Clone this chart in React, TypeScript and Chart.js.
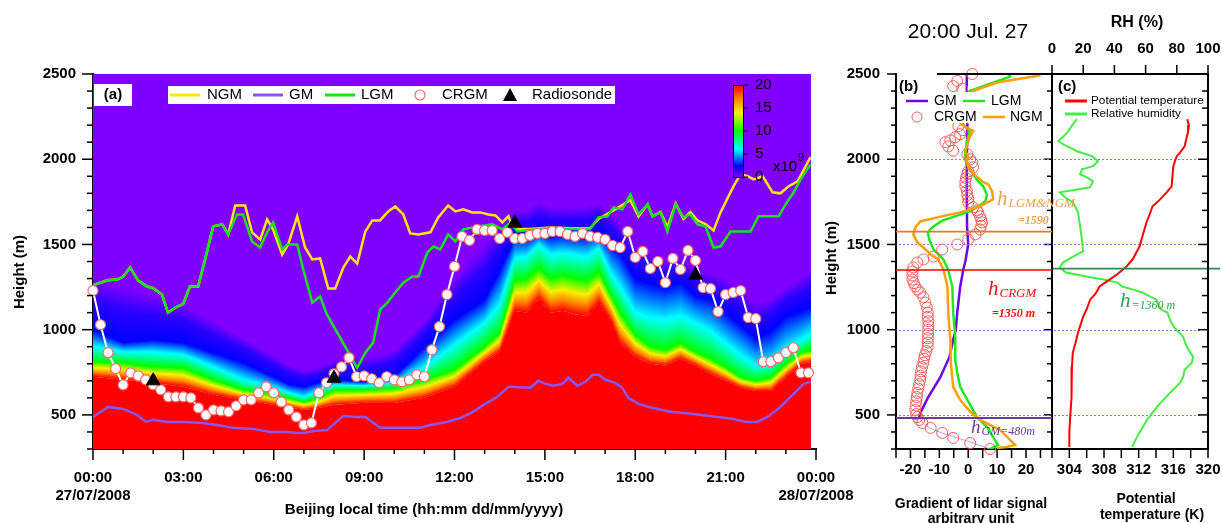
import React, { useEffect, useRef } from 'react';
import { Chart, registerables } from 'chart.js';

Chart.register(...registerables);

const SANS = '"Liberation Sans", Arial, Helvetica, sans-serif';
const SERIF = '"Liberation Serif", "Times New Roman", serif';

// ================= Panel (a): time-height section =================
const hourTicks = [0, 3, 6, 9, 12, 15, 18, 21, 24];
const heightTicks = [500, 1000, 1500, 2000, 2500];

const crgmTimes = Array.from({ length: 96 }, (_, i) => i * 0.25);
const crgmHeights = [
  1229, 1029, 865, 771, 676, 747, 729, 706, 676, 647, 606, 606, 606, 600, 541, 500, 529, 524, 518, 553, 588, 588, 629, 665,
  629, 576, 529, 488, 441, 453, 629, 688, 741, 782, 835, 724, 729, 712, 688, 724, 706, 694, 706, 735, 724, 882, 1018, 1206,
  1371, 1547, 1524, 1588, 1582, 1582, 1535, 1571, 1535, 1535, 1553, 1565, 1565, 1576, 1576, 1559, 1547, 1565, 1547, 1541,
  1529, 1494, 1482, 1576, 1424, 1459, 1359, 1400, 1276, 1418, 1353, 1465, 1406, 1247, 1241, 1106, 1206, 1218, 1229, 1071,
  1065, 812, 812, 835, 865, 894, 747, 747,
];

const ngmTimes = [
  0, 0.47, 0.8, 1.0, 1.23, 1.5, 1.8, 2.0, 2.29, 2.49, 2.79, 2.99, 3.22, 3.49, 3.72, 3.99, 4.29, 4.49, 4.72, 5.05,
  5.28, 5.55, 5.78, 5.98, 6.28, 6.48, 6.78, 7.04, 7.28, 7.54, 7.81, 8.04, 8.31, 8.54, 8.77, 9.04, 9.27, 9.53, 9.8, 10.03,
  10.3, 10.53, 10.8, 11.2, 11.46, 11.79, 12.03, 12.29, 12.59, 12.86, 13.12, 13.36, 13.59, 13.79, 13.92, 14.09, 14.5, 15.18, 15.85, 16.5,
  16.78, 17.28, 17.84, 18.11, 18.41, 18.57, 18.84, 19.07, 19.34, 19.6, 19.83, 20.07, 20.33, 20.6, 20.83, 21.26, 21.5, 21.73, 21.93, 22.23,
  22.56, 22.82, 23.09, 23.39, 23.82,
];
const ngmHeights = [
  1260, 1290, 1294, 1310, 1365, 1288, 1253, 1243, 1206, 1100, 1135, 1150, 1253, 1253, 1412, 1606, 1618, 1559, 1729, 1729,
  1571, 1529, 1647, 1588, 1441, 1500, 1665, 1482, 1412, 1418, 1241, 1241, 1365, 1429, 1388, 1576, 1641, 1641, 1694, 1723,
  1676, 1565, 1559, 1571, 1659, 1729, 1694, 1706, 1688, 1688, 1676, 1670, 1629, 1665, 1606, 1590, 1590, 1600, 1595, 1595,
  1650, 1700, 1760, 1665, 1735, 1665, 1690, 1600, 1740, 1650, 1690, 1640, 1620, 1582, 1688, 1841, 1912, 1900, 1882, 1900,
  1806, 1800, 1841, 1870, 2012,
];

const lgmTimes = [
  0, 0.47, 0.8, 1.0, 1.23, 1.5, 1.8, 2.0, 2.29, 2.49, 2.79, 2.99, 3.22, 3.49, 3.72, 3.99, 4.29, 4.49, 4.78, 4.98,
  5.28, 5.55, 5.78, 5.98, 6.28, 6.45, 6.78, 6.98, 7.28, 7.54, 7.77, 8.77, 9.04, 9.3, 9.53, 9.8, 10.03, 10.3, 10.6, 10.8,
  11.1, 11.3, 11.53, 11.79, 12.03, 12.29, 12.76, 13.26, 13.59, 13.85, 14.09, 14.5, 15.18, 15.85, 16.5, 16.78, 17.08, 17.28, 17.57, 17.84,
  18.11, 18.41, 18.57, 18.84, 19.07, 19.34, 19.6, 19.83, 20.07, 20.33, 20.6, 20.83, 21.16, 21.83, 22.09, 22.76, 22.99, 23.26, 23.49, 23.82,
];
const lgmHeights = [
  1260, 1290, 1294, 1310, 1365, 1288, 1253, 1243, 1206, 1100, 1135, 1150, 1253, 1253, 1412, 1606, 1618, 1559, 1676, 1676,
  1518, 1482, 1571, 1629, 1471, 1500, 1500, 1353, 1159, 1194, 1088, 776, 865, 924, 1118, 1165, 1218, 1276, 1312, 1312,
  1453, 1488, 1471, 1559, 1518, 1588, 1606, 1618, 1588, 1629, 1576, 1585, 1595, 1590, 1590, 1659, 1665, 1718, 1706, 1794,
  1676, 1735, 1665, 1688, 1576, 1735, 1659, 1676, 1618, 1606, 1482, 1488, 1576, 1576, 1665, 1665, 1735, 1806, 1882, 1970,
];

const gmTimes = [
  0, 0.5, 1.0, 1.46, 1.76, 2.0, 2.46, 3.0, 3.65, 4.12, 4.65, 5.32, 5.88, 6.45, 6.78, 6.98, 7.31, 7.77, 8.31, 8.77,
  9.04, 9.53, 10.86, 11.2, 11.76, 12.19, 12.62, 12.96, 13.42, 13.79, 14.52, 14.78, 15.02, 15.28, 15.58, 15.78, 16.08, 16.35, 16.58, 16.78,
  17.01, 17.34, 17.57, 17.77, 18.11, 18.57, 19.17, 19.93, 20.73, 21.26, 21.66, 22.06, 22.39, 22.82, 23.22, 23.59, 23.82,
];
const gmHeights = [
  488, 547, 535, 500, 459, 471, 459, 459, 453, 441, 424, 418, 400, 400, 394, 394, 406, 412, 494, 488,
  488, 424, 424, 441, 459, 482, 518, 559, 606, 665, 659, 700, 682, 671, 682, 718, 671, 694, 735, 735,
  706, 688, 659, 600, 565, 541, 518, 506, 488, 476, 459, 459, 488, 547, 618, 682, 694,
];

const sondeTimes = [2, 8, 14, 20];
const sondeHeights = [700, 715, 1625, 1320];

// lidar-signal field described by the heights of its iso-levels (x10^9)
const heatTimes = [
  0, 1, 2, 3, 4, 5, 6, 6.5, 7, 7.5, 8, 9, 10, 11, 12, 13, 13.5, 14, 14.4, 14.8,
  15.2, 15.6, 16, 16.4, 16.8, 17.2, 17.5, 18, 18.5, 19, 19.5, 20, 20.5, 21, 21.5, 22, 22.5, 23, 23.5, 23.85,
];
const iso20 = [
  724, 706, 688, 665, 618, 588, 559, 545, 529, 540, 559, 571, 570, 600, 665, 812, 870, 1110, 1100, 1180,
  1100, 1110, 1090, 1080, 1160, 1050, 920, 840, 800, 790, 830, 790, 740, 700, 660, 640, 640, 720, 800, 810,
];
const iso10 = [
  812, 806, 782, 776, 706, 647, 618, 600, 576, 600, 647, 647, 659, 706, 765, 900, 980, 1290, 1300, 1360,
  1300, 1320, 1300, 1290, 1340, 1200, 1100, 970, 900, 880, 920, 870, 830, 780, 720, 700, 720, 800, 865, 880,
];
const iso5 = [
  900, 870, 870, 853, 782, 706, 659, 630, 606, 640, 676, 671, 688, 780, 912, 1041, 1150, 1420, 1430, 1500,
  1440, 1450, 1440, 1430, 1480, 1330, 1250, 1100, 1070, 1060, 1080, 1040, 990, 920, 850, 790, 800, 880, 940, 980,
];
const iso2 = [
  1000, 924, 941, 924, 865, 806, 724, 680, 665, 690, 706, 694, 724, 900, 1059, 1176, 1350, 1540, 1540, 1570,
  1550, 1560, 1550, 1550, 1570, 1500, 1450, 1300, 1270, 1250, 1280, 1200, 1180, 1100, 1030, 950, 990, 1080, 1110, 1135,
];
const iso0 = [
  1300, 1250, 1200, 1150, 1050, 950, 850, 800, 760, 780, 820, 830, 880, 1050, 1300, 1500, 1600, 1700, 1700, 1750,
  1720, 1720, 1720, 1720, 1750, 1680, 1620, 1500, 1450, 1400, 1420, 1350, 1330, 1300, 1230, 1150, 1180, 1250, 1300, 1350,
];
const colorbarTicks = [0, 5, 10, 15, 20];

// ================= Panel (b): gradient profiles at 20:00 =================
const gradTicks = [-20, -10, 0, 10, 20];
const gmGradH = [2500, 2400, 2200, 2000, 1800, 1600, 1500, 1400, 1353, 1250, 1100, 1000, 941, 840, 720, 600, 510, 482, 440, 412, 382, 341, 300];
const gmGrad = [-0.5, -0.5, -0.3, -0.5, -0.5, -0.4, 0, -1, -1.7, -2.8, -3.8, -4.3, -5.2, -6.5, -9.7, -14, -16.6, -17, -15, -12, -7, 0.7, 7.6];

const lgmGradH = [
  2506, 2485, 2400, 2217, 2165, 2100, 2047, 2000, 1959, 1912, 1870, 1841, 1790, 1753, 1718, 1690, 1640, 1600, 1570, 1530,
  1470, 1412, 1353, 1253, 1100, 960, 824, 747, 665, 588, 488, 429, 371, 324, 312, 300,
];
const lgmGrad = [
  13.8, 14.5, 0.5, -2.5, 0.5, -0.5, -1, -1, 0, 1.7, 3.5, 5.2, 6.5, 5.9, 3, -0.3, -9, -12.5, -14, -13.5,
  -12, -8.6, -7, -5.5, -5.2, -4.5, -4.5, -3.8, -2.8, -0.3, 3, 6.5, 8.6, 10.3, 9, 7.6,
];

const ngmGradH = [
  2500, 2490, 2450, 2400, 2217, 2190, 2165, 2130, 2100, 2047, 2018, 2000, 1959, 1912, 1870, 1853, 1812, 1765, 1724, 1688,
  1659, 1635, 1600, 1559, 1512, 1482, 1441, 1412, 1353, 1253, 1100, 941, 800, 665, 588, 518, 471, 412, 324, 312, 306,
];
const ngmGrad = [
  22.4, 24, 10, 1.5, -3, -1, 1.7, 0.5, 0, -1, 0, -0.5, 0, 2, 4.8, 6.9, 8.3, 8.6, 4.1, -2.8,
  -10.7, -16.6, -18.3, -19, -17.6, -15.5, -13, -10.3, -8.6, -7.2, -6.9, -6.2, -6, -5.2, -2.8, 0.7, 4.1, 11, 16.2, 13.4, 10,
];

const crgmGradH = [
  2500, 2459, 2429, 2412, 2194, 2170, 2147, 2129, 2110, 2100, 2075, 2050, 2029, 2000, 1982, 1953, 1930, 1912, 1890, 1865,
  1841, 1815, 1790, 1770, 1747, 1718, 1700, 1688, 1665, 1645, 1629, 1610, 1588, 1559, 1529, 1500, 1470, 1429, 1412, 1394,
  1365, 1341, 1318, 1294, 1273, 1253, 1235, 1218, 1190, 1159, 1130, 1100, 1076, 1050, 1025, 1000, 975, 950, 925, 900,
  875, 850, 830, 806, 780, 755, 730, 706, 680, 655, 629, 605, 580, 555, 529, 505, 488, 470, 453, 424, 394, 365, 335, 300,
];
const crgmGrad = [
  1.4, -3.8, -5.2, -2.1, -3.4, -2, -2.8, -4.5, -6.2, -7.9, -6.9, -5.2, -0.3, 0.7, 1.4, 1.7, 0, -0.3, -0.8, -1,
  -1, -0.5, -0.3, 0, 0, 1.7, 3, 3.4, 4.1, 4.5, 4.8, 4.5, 4.1, 2.5, 0, -3.8, -9, -12, -15.5, -17.6,
  -19, -19.3, -19.3, -19.3, -18.8, -18.3, -17.5, -16.6, -15.5, -14.8, -14.3, -14, -14, -13.8, -13.8, -13.8, -13.9, -14, -14, -14,
  -14.5, -15, -15.3, -15.5, -16, -16.3, -16.5, -16.6, -17, -17.3, -17.6, -17.8, -18, -18.2, -18.3, -18, -17.6, -17, -15.9, -13, -9, -5.2, 0.7, 7.6,
];

const hLgmNgm = 1575;
const hCrgm = 1350;
const hGm = 482;

// ================= Panel (c): radiosonde profiles =================
const ptTicks = [304, 308, 312, 316, 320];
const rhTicks = [0, 20, 40, 60, 80, 100];
const ptH = [
  2235, 2200, 2159, 2120, 2076, 2040, 2018, 1990, 1959, 1900, 1841, 1810, 1782, 1750, 1724, 1680, 1629, 1560, 1488, 1450,
  1412, 1371, 1324, 1282, 1253, 1210, 1176, 1120, 1076, 1030, 982, 920, 865, 780, 688, 600, 488, 400, 312,
];
const ptK = [
  317.6, 317.8, 317.7, 317.5, 317.3, 316.8, 316.4, 316.2, 316, 315.9, 315.8, 315.3, 314.8, 314.2, 313.6, 313.3, 312.9, 312.5, 312.1, 311.7,
  311.3, 310.6, 309.5, 308.3, 307.5, 307, 306.4, 306, 305.6, 305.3, 305, 304.7, 304.4, 304.3, 304.3, 304.2, 304.1, 304, 304,
];
const rhH = [
  2235, 2200, 2165, 2130, 2106, 2088, 2047, 2018, 1988, 1959, 1941, 1912, 1894, 1870, 1835, 1823, 1806, 1780, 1747, 1688,
  1606, 1529, 1459, 1429, 1394, 1365, 1335, 1312, 1294, 1276, 1253, 1235, 1218, 1194, 1176, 1150, 1118, 1100, 1050, 1018,
  959, 910, 882, 841, 806, 765, 720, 688, 629, 547, 471, 371, 312,
];
const rhPct = [
  16, 13, 10.5, 7, 4, 7, 16, 25.6, 29.5, 26.3, 19.2, 18, 22.4, 26.3, 24.4, 16, 5, 8, 13.5, 16.7,
  18, 19.2, 19.9, 13.5, 7, 5, 9, 22, 33, 42, 45, 52, 58, 63, 67, 68, 70, 74, 76, 78,
  84, 86, 87.5, 90.4, 89.7, 85, 84, 82, 75.6, 67.3, 60.9, 54.5, 51.3,
];
const hRh = 1358;

// ================= helpers =================
const pts = (xs: number[], ys: number[]) => xs.map((x, i) => ({ x, y: ys[i] }));

function interp(ts: number[], vs: number[], t: number) {
  if (t <= ts[0]) return vs[0];
  for (let i = 1; i < ts.length; i++) {
    if (t <= ts[i]) {
      const f = (t - ts[i - 1]) / (ts[i] - ts[i - 1]);
      return vs[i - 1] + f * (vs[i] - vs[i - 1]);
    }
  }
  return vs[vs.length - 1];
}

function seg(ctx: CanvasRenderingContext2D, x1: number, y1: number, x2: number, y2: number) {
  ctx.beginPath();
  ctx.moveTo(x1, y1);
  ctx.lineTo(x2, y2);
  ctx.stroke();
}

function txt(ctx: CanvasRenderingContext2D, s: string, x: number, y: number, font: string, color = '#000', align: CanvasTextAlign = 'left', baseline: CanvasTextBaseline = 'middle') {
  ctx.font = font;
  ctx.fillStyle = color;
  ctx.textAlign = align;
  ctx.textBaseline = baseline;
  ctx.fillText(s, x, y);
}

function vtxt(ctx: CanvasRenderingContext2D, s: string, x: number, y: number, font: string) {
  ctx.save();
  ctx.translate(x, y);
  ctx.rotate(-Math.PI / 2);
  txt(ctx, s, 0, 0, font, '#000', 'center', 'middle');
  ctx.restore();
}

function hourLabel(v: number) {
  const hh = String(v % 24).padStart(2, '0') + ':00';
  if (v === 0) return [hh, '27/07/2008'];
  if (v === 24) return [hh, '28/07/2008'];
  return hh;
}

const PURPLE = 'rgb(127,0,255)';
const tickFont = { family: SANS, size: 15, weight: 'bold' as const, lineHeight: 1.2 };
const noGrid = (len: number) => ({ display: true, drawOnChartArea: false, color: 'rgba(0,0,0,0)', tickLength: len });
const axisBorder = { display: true, color: '#000', width: 2 };

// ================= plugins =================
const heatPlugin = {
  id: 'heat',
  beforeDatasetsDraw(chart: any) {
    const { ctx, chartArea: ca, scales } = chart;
    const x = scales.x;
    const y = scales.y;
    ctx.save();
    ctx.beginPath();
    ctx.rect(ca.left, ca.top, ca.right - ca.left, ca.bottom - ca.top);
    ctx.clip();
    const x0 = Math.round(x.getPixelForValue(heatTimes[0]));
    const x1 = Math.round(x.getPixelForValue(heatTimes[heatTimes.length - 1]));
    for (let px = x0; px < x1; px++) {
      const t = x.getValueForPixel(px + 0.5);
      const yR = y.getPixelForValue(interp(heatTimes, iso20, t));
      const yG = y.getPixelForValue(interp(heatTimes, iso10, t));
      const yC = y.getPixelForValue(interp(heatTimes, iso5, t));
      const yB = y.getPixelForValue(interp(heatTimes, iso2, t));
      const yP = y.getPixelForValue(interp(heatTimes, iso0, t));
      ctx.fillStyle = PURPLE;
      ctx.fillRect(px, ca.top, 1, yP - ca.top + 1);
      ctx.fillStyle = 'rgb(255,0,0)';
      ctx.fillRect(px, yR, 1, ca.bottom - yR);
      const span = yR - yP;
      const f = (yy: number) => Math.min(1, Math.max(0, (yR - yy) / span));
      const g = ctx.createLinearGradient(0, yR, 0, yP);
      g.addColorStop(0, 'rgb(255,0,0)');
      g.addColorStop(f(yR + (yG - yR) * 0.3), 'rgb(255,130,0)');
      g.addColorStop(f(yR + (yG - yR) * 0.6), 'rgb(250,240,0)');
      g.addColorStop(f(yG), 'rgb(0,255,0)');
      g.addColorStop(f(yC), 'rgb(0,255,255)');
      g.addColorStop(f(yB), 'rgb(0,0,255)');
      g.addColorStop(f(yB + (yP - yB) * 0.55), 'rgb(40,0,255)');
      g.addColorStop(1, PURPLE);
      ctx.fillStyle = g;
      ctx.fillRect(px, yP, 1, yR - yP);
    }
    ctx.restore();
  },
};

const decorA = {
  id: 'decorA',
  afterDraw(chart: any) {
    const { ctx, chartArea: ca, scales } = chart;
    const x = scales.x;
    const y = scales.y;
    ctx.save();
    ctx.strokeStyle = '#000';
    ctx.lineWidth = 1.5;
    for (let h = 0; h <= 24; h++) {
      const px = x.getPixelForValue(h);
      seg(ctx, px, ca.bottom, px, ca.bottom + (h % 3 === 0 ? 11 : 5));
    }
    for (let m = 300; m <= 2500; m += 100) {
      const py = y.getPixelForValue(m);
      seg(ctx, ca.left - (m % 500 === 0 ? 11 : 6), py, ca.left, py);
    }
    // (a) label
    ctx.fillStyle = '#fff';
    ctx.fillRect(94, 84, 38, 22);
    txt(ctx, '(a)', 113, 95, `bold 15px ${SANS}`, '#000', 'center');
    // legend
    ctx.fillStyle = '#fff';
    ctx.fillRect(168, 86, 447, 18);
    const ly = 95;
    const f15 = `15px ${SANS}`;
    ctx.lineWidth = 3;
    ctx.strokeStyle = '#ffe60a';
    seg(ctx, 170, ly, 200, ly);
    txt(ctx, 'NGM', 207, ly, f15);
    ctx.strokeStyle = '#8b55f0';
    seg(ctx, 253, ly, 283, ly);
    txt(ctx, 'GM', 289, ly, f15);
    ctx.strokeStyle = '#1be01b';
    seg(ctx, 325, ly, 355, ly);
    txt(ctx, 'LGM', 361, ly, f15);
    ctx.lineWidth = 1.2;
    ctx.strokeStyle = '#ff6b6b';
    ctx.fillStyle = '#fff';
    ctx.beginPath();
    ctx.arc(420, ly, 5, 0, Math.PI * 2);
    ctx.fill();
    ctx.stroke();
    txt(ctx, 'CRGM', 442, ly, f15);
    ctx.fillStyle = '#000';
    ctx.beginPath();
    ctx.moveTo(510, ly - 7);
    ctx.lineTo(517, ly + 6);
    ctx.lineTo(503, ly + 6);
    ctx.closePath();
    ctx.fill();
    txt(ctx, 'Radiosonde', 532, ly, f15);
    // colour bar
    const cbL = 733, cbR = 743, cbT = 85, cbB = 177;
    const cg = ctx.createLinearGradient(0, cbB, 0, cbT);
    cg.addColorStop(0, PURPLE);
    cg.addColorStop(0.12, 'rgb(0,0,255)');
    cg.addColorStop(0.3, 'rgb(0,255,255)');
    cg.addColorStop(0.5, 'rgb(0,255,0)');
    cg.addColorStop(0.7, 'rgb(250,240,0)');
    cg.addColorStop(0.85, 'rgb(255,130,0)');
    cg.addColorStop(1, 'rgb(255,0,0)');
    ctx.fillStyle = cg;
    ctx.fillRect(cbL, cbT, cbR - cbL, cbB - cbT);
    ctx.strokeStyle = '#000';
    ctx.lineWidth = 1;
    ctx.strokeRect(cbL + 0.5, cbT + 0.5, cbR - cbL, cbB - cbT);
    colorbarTicks.forEach((v) => {
      const py = cbB - (v / 20) * (cbB - cbT);
      seg(ctx, cbR, py, cbR + 5, py);
      txt(ctx, String(v), 755, py, f15, '#000');
    });
    txt(ctx, 'x10', 773, 167, f15);
    txt(ctx, '9', 798, 158, `11px ${SANS}`);
    // axis titles
    vtxt(ctx, 'Height (m)', 20, 272, `bold 15px ${SANS}`);
    txt(ctx, 'Beijing local time (hh:mm dd/mm/yyyy)', 424, 510, `bold 15px ${SANS}`, '#000', 'center');
    ctx.restore();
  },
};

function hLabel(ctx: CanvasRenderingContext2D, x: number, base: number, sub: string, color: string, hSize: number, subSize: number) {
  txt(ctx, 'h', x, base, `italic ${hSize}px ${SERIF}`, color, 'left', 'alphabetic');
  const w = ctx.measureText('h').width;
  txt(ctx, sub, x + w + 1, base + 2, `italic ${subSize}px ${SERIF}`, color, 'left', 'alphabetic');
}

const OFF_B = 815;
const decorB = {
  id: 'decorB',
  beforeDatasetsDraw(chart: any) {
    const { ctx, scales } = chart;
    const y = scales.y;
    ctx.save();
    ctx.translate(-OFF_B, 0);
    ctx.strokeStyle = '#7a7aff';
    ctx.lineWidth = 1;
    ctx.setLineDash([2, 2]);
    [500, 1000, 1500, 2000].forEach((m) => {
      const py = Math.round(y.getPixelForValue(m)) + 0.5;
      seg(ctx, 899, py, 1050, py);
    });
    ctx.restore();
  },
  afterDatasetsDraw(chart: any) {
    const { ctx, chartArea: ca, scales } = chart;
    const x = scales.x;
    const y = scales.y;
    const L = ca.left + OFF_B;
    const R = ca.right + OFF_B;
    ctx.save();
    ctx.translate(-OFF_B, 0);
    // reference heights
    ctx.lineWidth = 1.6;
    ctx.strokeStyle = '#f07820';
    seg(ctx, L, y.getPixelForValue(hLgmNgm), R, y.getPixelForValue(hLgmNgm));
    ctx.strokeStyle = '#ff0000';
    seg(ctx, L, y.getPixelForValue(hCrgm), R, y.getPixelForValue(hCrgm));
    ctx.lineWidth = 2.2;
    ctx.strokeStyle = '#6a3d9a';
    seg(ctx, L, y.getPixelForValue(hGm), R, y.getPixelForValue(hGm));
    // legend
    ctx.fillStyle = '#fff';
    ctx.fillRect(899, 92, 151, 31);
    const f14 = `14px ${SANS}`;
    ctx.lineWidth = 2.5;
    ctx.strokeStyle = '#7200e6';
    seg(ctx, 906, 101, 928, 101);
    txt(ctx, 'GM', 934, 101, f14);
    ctx.strokeStyle = '#22e822';
    seg(ctx, 963, 101, 985, 101);
    txt(ctx, 'LGM', 991, 101, f14);
    ctx.lineWidth = 1;
    ctx.strokeStyle = '#ff5c5c';
    ctx.beginPath();
    ctx.arc(917, 117, 5, 0, Math.PI * 2);
    ctx.stroke();
    txt(ctx, 'CRGM', 934, 117, f14);
    ctx.lineWidth = 2.5;
    ctx.strokeStyle = '#ffa000';
    seg(ctx, 983, 117, 1005, 117);
    txt(ctx, 'NGM', 1010, 117, f14);
    txt(ctx, '(b)', 899, 87, `bold 15px ${SANS}`);
    // annotations
    hLabel(ctx, 997, 205, 'LGM&NGM', '#f0a050', 21, 13);
    txt(ctx, '=1590', 1018, 224, `italic bold 12px ${SERIF}`, '#f0a050', 'left', 'alphabetic');
    hLabel(ctx, 988, 295, 'CRGM', '#ff1010', 21, 13);
    txt(ctx, '=1350 m', 992, 317, `italic bold 12px ${SERIF}`, '#ff1010', 'left', 'alphabetic');
    hLabel(ctx, 971, 433, 'GM=480m', '#6a3d9a', 19, 12);
    // borders & ticks
    ctx.strokeStyle = '#000';
    ctx.lineWidth = 2;
    seg(ctx, 937, ca.top, R, ca.top);
    ctx.lineWidth = 1.5;
    for (let m = 300; m <= 2500; m += 100) {
      const py = y.getPixelForValue(m);
      seg(ctx, L - (m % 500 === 0 ? 9 : 5), py, L, py);
    }
    for (let v = -25; v <= 25; v += 5) {
      const px = x.getPixelForValue(v) + OFF_B;
      seg(ctx, px, ca.bottom, px, ca.bottom + 9);
    }
    // titles
    txt(ctx, '20:00 Jul. 27', 968, 32, `21px ${SANS}`, '#000', 'center');
    vtxt(ctx, 'Height (m)', 832, 258, `bold 15px ${SANS}`);
    txt(ctx, 'Gradient of lidar signal', 971, 504, `bold 14px ${SANS}`, '#000', 'center');
    txt(ctx, 'arbitrary unit', 971, 519, `bold 14px ${SANS}`, '#000', 'center');
    ctx.restore();
  },
};

const OFF_C = 1040;
const decorC = {
  id: 'decorC',
  beforeDatasetsDraw(chart: any) {
    const { ctx, scales } = chart;
    const y = scales.y;
    ctx.save();
    ctx.translate(-OFF_C, 0);
    ctx.strokeStyle = '#7a7aff';
    ctx.lineWidth = 1;
    ctx.setLineDash([2, 2]);
    [500, 1000, 1500, 2000].forEach((m) => {
      const py = Math.round(y.getPixelForValue(m)) + 0.5;
      seg(ctx, 1054, py, 1200, py);
    });
    ctx.restore();
  },
  afterDatasetsDraw(chart: any) {
    const { ctx, chartArea: ca, scales } = chart;
    const x = scales.x;
    const x2 = scales.x2;
    const y = scales.y;
    const L = ca.left + OFF_C;
    const R = ca.right + OFF_C;
    ctx.save();
    ctx.translate(-OFF_C, 0);
    ctx.strokeStyle = '#2e8b57';
    ctx.lineWidth = 1.6;
    seg(ctx, L, y.getPixelForValue(hRh), 1220, y.getPixelForValue(hRh));
    // legend
    txt(ctx, '(c)', 1058, 87, `bold 15px ${SANS}`);
    ctx.lineWidth = 3;
    ctx.strokeStyle = '#ff0000';
    seg(ctx, 1065, 101, 1087, 101);
    txt(ctx, 'Potential temperature', 1091, 101, `11.8px ${SANS}`);
    ctx.strokeStyle = '#44ee44';
    seg(ctx, 1065, 114, 1087, 114);
    txt(ctx, 'Relative humidity', 1091, 114, `11.8px ${SANS}`);
    hLabel(ctx, 1120, 307, '=1360 m', '#2e9e4f', 21, 12);
    // borders
    ctx.strokeStyle = '#000';
    ctx.lineWidth = 2;
    seg(ctx, L, ca.top, L, ca.bottom);
    seg(ctx, R, ca.top, R, ca.bottom);
    ctx.lineWidth = 1.5;
    for (let m = 300; m <= 2500; m += 100) {
      const py = y.getPixelForValue(m);
      const big = m % 500 === 0;
      seg(ctx, L - (big ? 8 : 5), py, L, py);
      seg(ctx, R - (big ? 10 : 6), py, R, py);
    }
    for (let k = 302; k <= 320; k += 2) {
      const px = x.getPixelForValue(k) + OFF_C;
      seg(ctx, px, ca.bottom, px, ca.bottom + 9);
    }
    rhTicks.forEach((v) => {
      const px = x2.getPixelForValue(v) + OFF_C;
      seg(ctx, px, ca.top - 9, px, ca.top);
    });
    txt(ctx, 'RH (%)', 1137, 23, `bold 16px ${SANS}`, '#000', 'center');
    txt(ctx, 'Potential', 1146, 499, `bold 14px ${SANS}`, '#000', 'center');
    txt(ctx, 'temperature (K)', 1152, 515, `bold 14px ${SANS}`, '#000', 'center');
    ctx.restore();
  },
};

// ================= chart builders =================
function makeA(canvas: HTMLCanvasElement) {
  return new Chart(canvas, {
    type: 'scatter',
    data: {
      datasets: [
        { label: 'Radiosonde', data: pts(sondeTimes, sondeHeights), showLine: false, pointStyle: 'triangle', pointRadius: 8, pointBackgroundColor: '#000', pointBorderColor: '#000', order: 1 } as any,
        { label: 'CRGM', data: pts(crgmTimes, crgmHeights), showLine: true, borderColor: '#ffffff', borderWidth: 2, pointRadius: 5, pointBackgroundColor: '#ffffff', pointBorderColor: '#ff6b6b', pointBorderWidth: 1.2, clip: false, order: 2 },
        { label: 'LGM', data: pts(lgmTimes, lgmHeights), showLine: true, borderColor: '#1be01b', borderWidth: 2.5, pointRadius: 0, order: 3 },
        { label: 'GM', data: pts(gmTimes, gmHeights), showLine: true, borderColor: '#8b55f0', borderWidth: 2.5, pointRadius: 0, order: 4 },
        { label: 'NGM', data: pts(ngmTimes, ngmHeights), showLine: true, borderColor: '#ffe60a', borderWidth: 2.5, pointRadius: 0, order: 5 },
      ],
    },
    options: {
      animation: false,
      responsive: false,
      devicePixelRatio: 1,
      events: [],
      layout: { padding: { left: 0, top: 74, right: 54, bottom: 0 }, autoPadding: false } as any,
      plugins: { legend: { display: false }, tooltip: { enabled: false } },
      scales: {
        x: {
          type: 'linear', min: 0, max: 24, position: 'bottom',
          afterBuildTicks: (s: any) => { s.ticks = hourTicks.map((v) => ({ value: v })); },
          afterFit: (s: any) => { s.height = 74; s.paddingLeft = 0; s.paddingRight = 0; },
          ticks: { autoSkip: false, maxRotation: 0, minRotation: 0, padding: 10, color: '#000', font: tickFont, callback: (v: any) => hourLabel(Number(v)) },
          grid: noGrid(10),
          border: axisBorder,
        },
        y: {
          type: 'linear', min: 300, max: 2500,
          afterBuildTicks: (s: any) => { s.ticks = heightTicks.map((v) => ({ value: v })); },
          afterFit: (s: any) => { s.width = 93; s.paddingTop = 0; s.paddingBottom = 0; },
          ticks: { padding: 8, color: '#000', font: tickFont, callback: (v: any) => String(v) },
          grid: noGrid(9),
          border: axisBorder,
        },
      },
    } as any,
    plugins: [heatPlugin, decorA],
  });
}

function makeB(canvas: HTMLCanvasElement) {
  return new Chart(canvas, {
    type: 'scatter',
    data: {
      datasets: [
        { label: 'NGM', data: pts(ngmGrad, ngmGradH), showLine: true, borderColor: '#ffa000', borderWidth: 2.5, pointRadius: 0, order: 1 },
        { label: 'CRGM', data: pts(crgmGrad, crgmGradH), showLine: false, pointRadius: 5.5, pointBorderColor: '#ff5c5c', pointBackgroundColor: 'rgba(0,0,0,0)', pointBorderWidth: 1, clip: false, order: 2 },
        { label: 'LGM', data: pts(lgmGrad, lgmGradH), showLine: true, borderColor: '#22e822', borderWidth: 2.5, pointRadius: 0, order: 3 },
        {
          label: 'GM', data: pts(gmGrad, gmGradH), showLine: true, borderColor: '#7200e6', borderWidth: 2.5, pointRadius: 0, order: 4,
          segment: {
            borderWidth: (c: any) => (c.p0.parsed.y <= hGm + 0.5 ? 1 : 2.5),
            borderColor: (c: any) => (c.p0.parsed.y <= hGm + 0.5 ? '#b8a0f0' : '#7200e6'),
          },
        } as any,
      ],
    },
    options: {
      animation: false,
      responsive: false,
      devicePixelRatio: 1,
      events: [],
      layout: { padding: { left: 0, top: 74, right: 28, bottom: 0 }, autoPadding: false } as any,
      plugins: { legend: { display: false }, tooltip: { enabled: false } },
      scales: {
        x: {
          type: 'linear', min: -25, max: 29, position: 'bottom',
          afterBuildTicks: (s: any) => { s.ticks = gradTicks.map((v) => ({ value: v })); },
          afterFit: (s: any) => { s.height = 74; s.paddingLeft = 0; s.paddingRight = 0; },
          ticks: { autoSkip: false, maxRotation: 0, padding: 4, color: '#000', font: tickFont, callback: (v: any) => String(v) },
          grid: noGrid(8),
          border: axisBorder,
        },
        y: {
          type: 'linear', min: 300, max: 2500,
          afterBuildTicks: (s: any) => { s.ticks = heightTicks.map((v) => ({ value: v })); },
          afterFit: (s: any) => { s.width = 81; s.paddingTop = 0; s.paddingBottom = 0; },
          ticks: { padding: 8, color: '#000', font: tickFont, callback: (v: any) => String(v) },
          grid: noGrid(8),
          border: axisBorder,
        },
      },
    } as any,
    plugins: [decorB],
  });
}

function makeC(canvas: HTMLCanvasElement) {
  return new Chart(canvas, {
    type: 'scatter',
    data: {
      datasets: [
        { label: 'Potential temperature', data: pts(ptK, ptH), xAxisID: 'x', showLine: true, borderColor: '#ff0000', borderWidth: 2, pointRadius: 0 },
        { label: 'Relative humidity', data: pts(rhPct, rhH), xAxisID: 'x2', showLine: true, borderColor: '#44ee44', borderWidth: 2, pointRadius: 0 },
      ],
    },
    options: {
      animation: false,
      responsive: false,
      devicePixelRatio: 1,
      events: [],
      layout: { padding: { left: 12, top: 0, right: 14, bottom: 0 }, autoPadding: false } as any,
      plugins: { legend: { display: false }, tooltip: { enabled: false } },
      scales: {
        x: {
          type: 'linear', min: 302, max: 320, position: 'bottom',
          afterBuildTicks: (s: any) => { s.ticks = ptTicks.map((v) => ({ value: v })); },
          afterFit: (s: any) => { s.height = 74; s.paddingLeft = 0; s.paddingRight = 0; },
          ticks: { autoSkip: false, maxRotation: 0, padding: 4, color: '#000', font: tickFont, callback: (v: any) => String(v) },
          grid: noGrid(8),
          border: axisBorder,
        },
        x2: {
          type: 'linear', min: 0, max: 100, position: 'top',
          afterBuildTicks: (s: any) => { s.ticks = rhTicks.map((v) => ({ value: v })); },
          afterFit: (s: any) => { s.height = 74; s.paddingLeft = 0; s.paddingRight = 0; },
          ticks: { autoSkip: false, maxRotation: 0, padding: 8, color: '#000', font: tickFont, callback: (v: any) => String(v) },
          grid: noGrid(8),
          border: axisBorder,
        },
        y: { type: 'linear', min: 300, max: 2500, display: false },
      },
    } as any,
    plugins: [decorC],
  });
}

export default function App() {
  const refA = useRef<HTMLCanvasElement>(null);
  const refB = useRef<HTMLCanvasElement>(null);
  const refC = useRef<HTMLCanvasElement>(null);
  useEffect(() => {
    const charts = [makeA(refA.current!), makeC(refC.current!), makeB(refB.current!)];
    return () => charts.forEach((c) => c.destroy());
  }, []);
  const abs = (left: number, w: number, z: number): React.CSSProperties => ({ position: 'absolute', left, top: 0, width: w, height: 523, zIndex: z });
  return (
    <div style={{ position: 'absolute', left: 0, top: 0, width: 1222, height: 523, background: '#fff', overflow: 'hidden' }}>
      <canvas ref={refA} width={870} height={523} style={abs(0, 870, 1)} />
      <canvas ref={refC} width={182} height={523} style={abs(OFF_C, 182, 2)} />
      <canvas ref={refB} width={265} height={523} style={abs(OFF_B, 265, 3)} />
    </div>
  );
}
